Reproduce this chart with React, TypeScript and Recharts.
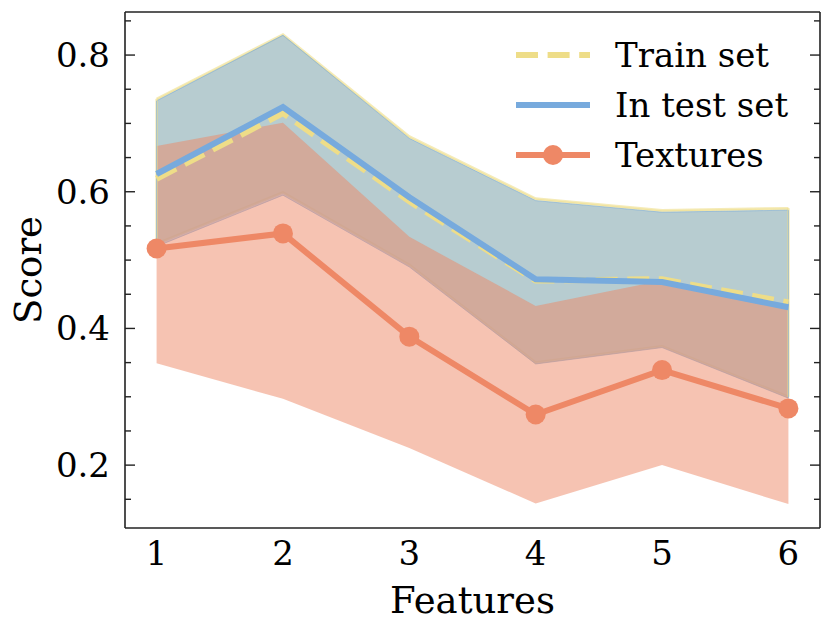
import React from "react";
import {
  Area,
  ComposedChart,
  Legend,
  Line,
  ReferenceLine,
  XAxis,
  YAxis,
} from "recharts";

const features = [1, 2, 3, 4, 5, 6];

const trainMean = [0.619, 0.715, 0.586, 0.47, 0.472, 0.438];
const trainLow = [0.524, 0.599, 0.493, 0.35, 0.374, 0.3];
const trainHigh = [0.736, 0.83, 0.681, 0.59, 0.573, 0.576];

const testMean = [0.626, 0.724, 0.592, 0.472, 0.468, 0.431];
const testLow = [0.52, 0.595, 0.49, 0.348, 0.372, 0.298];
const testHigh = [0.733, 0.829, 0.678, 0.587, 0.57, 0.573];

const texturesMean = [0.517, 0.539, 0.388, 0.274, 0.339, 0.283];
const texturesLow = [0.349, 0.297, 0.225, 0.144, 0.2, 0.143];
const texturesHigh = [0.667, 0.701, 0.534, 0.433, 0.47, 0.43];

const yTicks = [
  0.15, 0.2, 0.25, 0.3, 0.35, 0.4, 0.45, 0.5, 0.55, 0.6, 0.65, 0.7, 0.75, 0.8,
  0.85,
];
const yMajorTicks = [0.2, 0.4, 0.6, 0.8];

const YELLOW = "#EEDD88";
const BLUE = "#77AADD";
const ORANGE = "#EE8866";
const INK = "#222222";
const FONT = "'DejaVu Serif', serif";

const legendItems = [
  { name: "Train set", color: YELLOW, dashed: true, marker: false },
  { name: "In test set", color: BLUE, dashed: false, marker: false },
  { name: "Textures", color: ORANGE, dashed: false, marker: true },
];

const data = features.map((f, i) => ({
  feature: f,
  trainMean: trainMean[i],
  trainBand: [trainLow[i], trainHigh[i]],
  testMean: testMean[i],
  testBand: [testLow[i], testHigh[i]],
  texturesMean: texturesMean[i],
  texturesBand: [texturesLow[i], texturesHigh[i]],
}));

const isMajor = (v: number) => yMajorTicks.some((m) => Math.abs(m - v) < 1e-6);

const LeftTick = (props: any) => {
  const { x, y, payload } = props;
  const major = isMajor(payload.value);
  return (
    <g>
      <line x1={x} x2={x + (major ? 10 : 6)} y1={y} y2={y} stroke={INK} strokeWidth={1.4} />
      {major && (
        <text
          x={x - 15}
          y={y}
          textAnchor="end"
          dominantBaseline="central"
          fontFamily={FONT}
          fontSize={34}
          fill="#000"
        >
          {payload.value.toFixed(1)}
        </text>
      )}
    </g>
  );
};

const RightTick = (props: any) => {
  const { x, y, payload } = props;
  const major = isMajor(payload.value);
  return (
    <line x1={x} x2={x - (major ? 10 : 6)} y1={y} y2={y} stroke={INK} strokeWidth={1.4} />
  );
};

const BottomTick = (props: any) => {
  const { x, y, payload } = props;
  return (
    <text x={x} y={y + 37} textAnchor="middle" fontFamily={FONT} fontSize={34} fill="#000">
      {payload.value}
    </text>
  );
};

const renderLegend = () => (
  <div style={{ fontFamily: FONT, fontSize: 34, color: "#000" }}>
    {legendItems.map((item) => (
      <div key={item.name} style={{ display: "flex", alignItems: "center", height: 50 }}>
        <svg width={82} height={30} style={{ display: "block" }}>
          <line
            x1={6}
            x2={80}
            y1={15}
            y2={15}
            stroke={item.color}
            strokeWidth={6}
            strokeDasharray={item.dashed ? "22 9.6" : undefined}
          />
          {item.marker && <circle cx={43} cy={15} r={10} fill={item.color} />}
        </svg>
        <span style={{ marginLeft: 23, lineHeight: "50px", whiteSpace: "nowrap" }}>{item.name}</span>
      </div>
    ))}
  </div>
);

// edge: width of the band outline (0 = no outline)
const bands = [
  { key: "trainBand", color: YELLOW, edge: 2.5, low: trainLow, high: trainHigh },
  { key: "testBand", color: BLUE, edge: 1, low: testLow, high: testHigh },
  { key: "texturesBand", color: ORANGE, edge: 0, low: texturesLow, high: texturesHigh },
];

export default function App() {
  const last = features.length - 1;
  const edged = bands.filter((b) => b.edge > 0);
  return (
    <div style={{ position: "absolute", left: 0, top: 0 }}>
      <ComposedChart
        width={831}
        height={632}
        data={data}
        margin={{ top: 11, right: 10, bottom: 0, left: 0 }}
      >
        <XAxis
          dataKey="feature"
          type="number"
          domain={[0.75, 6.25]}
          ticks={features}
          allowDataOverflow
          height={104}
          tickLine={false}
          tickSize={0}
          tickMargin={0}
          tick={<BottomTick />}
          axisLine={{ stroke: INK, strokeWidth: 1.6 }}
          label={({ viewBox }: any) => (
            <text
              x={viewBox.x + viewBox.width / 2}
              y={viewBox.y + 85}
              textAnchor="middle"
              fontFamily={FONT}
              fontSize={37}
              fill="#000"
            >
              Features
            </text>
          )}
        />
        <XAxis
          xAxisId="top"
          orientation="top"
          type="number"
          domain={[0.75, 6.25]}
          allowDataOverflow
          height={1}
          tick={false}
          tickLine={false}
          axisLine={{ stroke: INK, strokeWidth: 1.6 }}
        />
        <YAxis
          type="number"
          domain={[0.108, 0.863]}
          allowDataOverflow
          ticks={yTicks}
          interval={0}
          width={125}
          tickLine={false}
          tickSize={0}
          tickMargin={0}
          tick={<LeftTick />}
          axisLine={{ stroke: INK, strokeWidth: 1.6 }}
          label={({ viewBox }: any) => (
            <text
              x={viewBox.x + 28}
              y={viewBox.y + viewBox.height / 2}
              transform={`rotate(-90 ${viewBox.x + 28} ${viewBox.y + viewBox.height / 2})`}
              textAnchor="middle"
              dominantBaseline="central"
              fontFamily={FONT}
              fontSize={37}
              fill="#000"
            >
              Score
            </text>
          )}
        />
        <YAxis
          yAxisId="right"
          orientation="right"
          type="number"
          domain={[0.108, 0.863]}
          allowDataOverflow
          ticks={yTicks}
          interval={0}
          width={1}
          tickLine={false}
          tickSize={0}
          tickMargin={0}
          tick={<RightTick />}
          axisLine={{ stroke: INK, strokeWidth: 1.6 }}
        />
        {bands.map((b) => (
          <Area
            key={b.key}
            type="linear"
            dataKey={b.key}
            fill={b.color}
            fillOpacity={0.5}
            stroke={b.edge > 0 ? b.color : "none"}
            strokeOpacity={0.6}
            strokeWidth={b.edge}
            isAnimationActive={false}
            legendType="none"
            activeDot={false}
          />
        ))}
        {edged.map((b) => (
          <ReferenceLine
            key={b.key + "-start"}
            segment={[
              { x: features[0], y: b.low[0] },
              { x: features[0], y: b.high[0] },
            ]}
            stroke={b.color}
            strokeOpacity={0.6}
            strokeWidth={b.edge}
          />
        ))}
        {edged.map((b) => (
          <ReferenceLine
            key={b.key + "-end"}
            segment={[
              { x: features[last], y: b.low[last] },
              { x: features[last], y: b.high[last] },
            ]}
            stroke={b.color}
            strokeOpacity={0.6}
            strokeWidth={b.edge}
          />
        ))}
        <Line
          type="linear"
          dataKey="trainMean"
          name="Train set"
          stroke={YELLOW}
          strokeWidth={6}
          strokeDasharray="22 9.6"
          dot={false}
          activeDot={false}
          isAnimationActive={false}
        />
        <Line
          type="linear"
          dataKey="testMean"
          name="In test set"
          stroke={BLUE}
          strokeWidth={6}
          dot={false}
          activeDot={false}
          isAnimationActive={false}
        />
        <Line
          type="linear"
          dataKey="texturesMean"
          name="Textures"
          stroke={ORANGE}
          strokeWidth={6}
          dot={{ r: 10, fill: ORANGE, stroke: ORANGE, strokeWidth: 0 }}
          activeDot={false}
          isAnimationActive={false}
        />
        <Legend
          layout="vertical"
          align="center"
          verticalAlign="middle"
          content={renderLegend}
          wrapperStyle={{ left: 510, top: 30, width: 300 }}
        />
      </ComposedChart>
    </div>
  );
}
